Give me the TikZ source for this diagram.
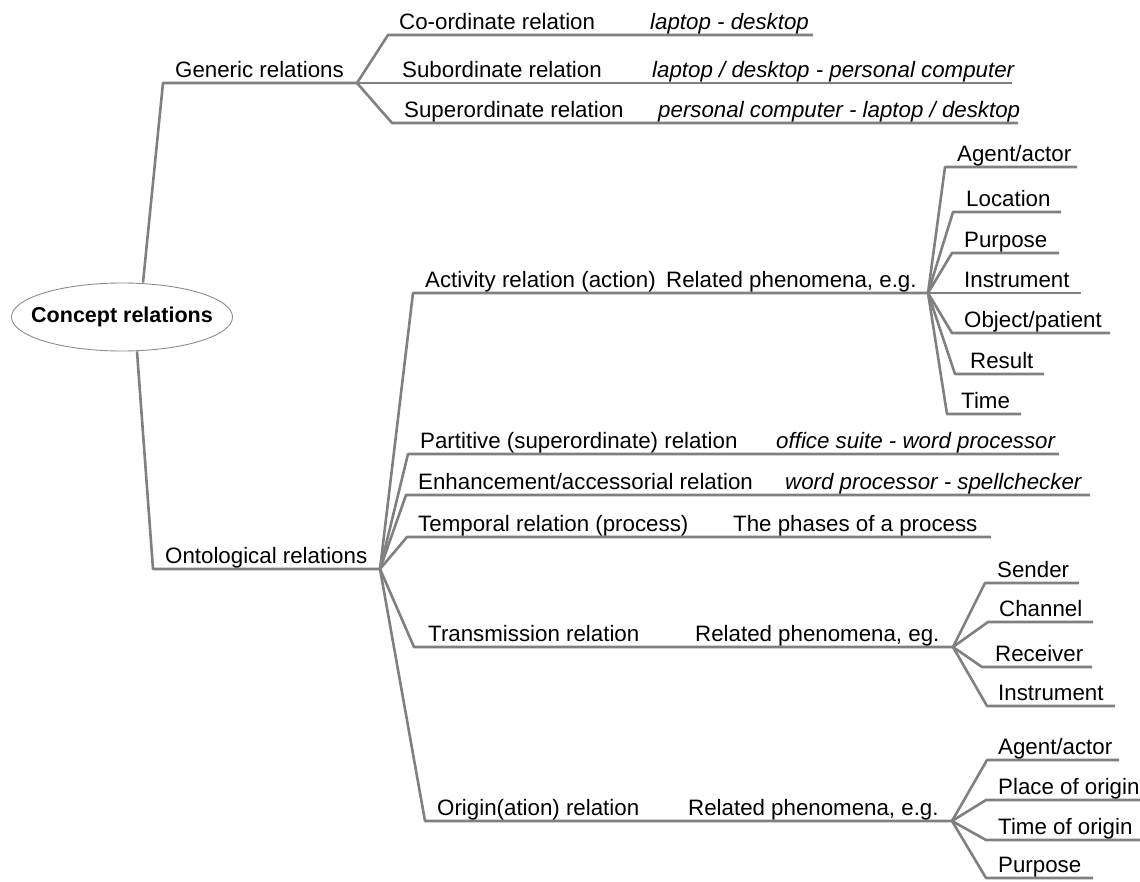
\documentclass[tikz,border=0pt]{standalone}
\usepackage{fontspec}
\setmainfont{Liberation Sans}
\usetikzlibrary{shapes.geometric}
\colorlet{branchGray}{black!50}
\colorlet{rimGray}{black!45}
\tikzset{
branchstyle/.style={draw=branchGray, line width=2.6pt, line join=round},
labelstyle/.style={anchor=base west, inner sep=0pt, font=\fontsize{22.3}{26}\selectfont},
examplestyle/.style={labelstyle, font=\fontsize{22.3}{26}\selectfont\itshape},
rootstyle/.style={ellipse, draw=rimGray, line width=0.9pt, minimum width=221pt, minimum height=68pt, inner sep=0pt},
roottextstyle/.style={inner sep=0pt, font=\fontsize{21.5}{25}\selectfont\bfseries}
}
% #1 name, #2 parent, #3 knee x, #4 line y, #5 end x, #6 text x, #7 text
\newcommand{\twig}[7]{
  \coordinate (#1knee) at (#3, #4);
  \coordinate (#1end) at (#5, #4);
  \draw[branchstyle] (#2) -- (#1knee) -- (#1end);
  \node[labelstyle] (#1) at (#6, #4 - 6) {#7};
}
% #1 name, #2 text x, #3 line y, #4 text
\newcommand{\sample}[4]{
  \node[examplestyle] (#1) at (#2, #3 - 6) {#4};
}
\newcommand{\plain}[4]{
  \node[labelstyle] (#1) at (#2, #3 - 6) {#4};
}

\begin{document}
\begin{tikzpicture}[x=1pt, y=-1pt]
\useasboundingbox (0,0) rectangle (1140,881);

\node[rootstyle] (root) at (122, 317) {};
\node[roottextstyle] (roottext) at (root.center) {Concept relations};
\coordinate (rootTop) at ([xshift=21pt]root.north);
\coordinate (rootBot) at ([xshift=15pt]root.south);

% generic
\twig{gen}{rootTop}{163}{83}{357}{175}{Generic relations}
\twig{coord}{genend}{388}{35}{813}{399}{Co-ordinate relation}
\sample{coordex}{650}{35}{laptop - desktop}
\twig{sub}{genend}{388}{83}{1012}{402}{Subordinate relation}
\sample{subex}{652}{83}{laptop / desktop - personal computer}
\twig{super}{genend}{392}{123}{1018}{404}{Superordinate relation}
\sample{superex}{658}{123}{personal computer - laptop / desktop}

% ontological
\twig{ont}{rootBot}{153}{569}{380}{165}{Ontological relations}

\twig{act}{ontend}{413}{293}{928}{425}{Activity relation (action)}
\plain{actex}{666}{293}{Related phenomena, e.g.}
\foreach \nm/\kx/\ky/\ex/\tx/\txt in {
  actA/945/167/1077/957/{Agent/actor},
  actB/953/212/1061/966/{Location},
  actC/952/253/1059/964/{Purpose},
  actD/940/293/1081/964/{Instrument},
  actE/952/333/1110/964/{Object/patient},
  actF/955/374/1044/970/{Result},
  actG/947/414/1021/961/{Time}}
{
  \twig{\nm}{actend}{\kx}{\ky}{\ex}{\tx}{\txt}
}

\twig{part}{ontend}{408}{454}{1059}{420}{Partitive (superordinate) relation}
\sample{partex}{776}{454}{office suite - word processor}
\twig{enh}{ontend}{406}{495}{1090}{418}{Enhancement/accessorial relation}
\sample{enhex}{785}{495}{word processor - spellchecker}
\twig{temp}{ontend}{407}{537}{991}{418}{Temporal relation (process)}
\plain{tempex}{733}{537}{The phases of a process}

\twig{trans}{ontend}{414}{647}{953}{428}{Transmission relation}
\plain{transex}{695}{647}{Related phenomena, eg.}
\foreach \nm/\kx/\ky/\ex/\tx/\txt in {
  trA/985/583/1079/997/{Sender},
  trB/988/622/1093/999/{Channel},
  trC/982/667/1092/995/{Receiver},
  trD/987/706/1115/998/{Instrument}}
{
  \twig{\nm}{transend}{\kx}{\ky}{\ex}{\tx}{\txt}
}

\twig{orig}{ontend}{425}{821}{952}{437}{Origin(ation) relation}
\plain{origex}{688}{821}{Related phenomena, e.g.}
\foreach \nm/\kx/\ky/\ex/\tx/\txt in {
  orA/987/760/1119/998/{Agent/actor},
  orB/986/800/1140/998/{Place of origin},
  orC/986/840/1140/998/{Time of origin},
  orD/986/878/1093/998/{Purpose}}
{
  \twig{\nm}{origend}{\kx}{\ky}{\ex}{\tx}{\txt}
}
\end{tikzpicture}
\end{document}
